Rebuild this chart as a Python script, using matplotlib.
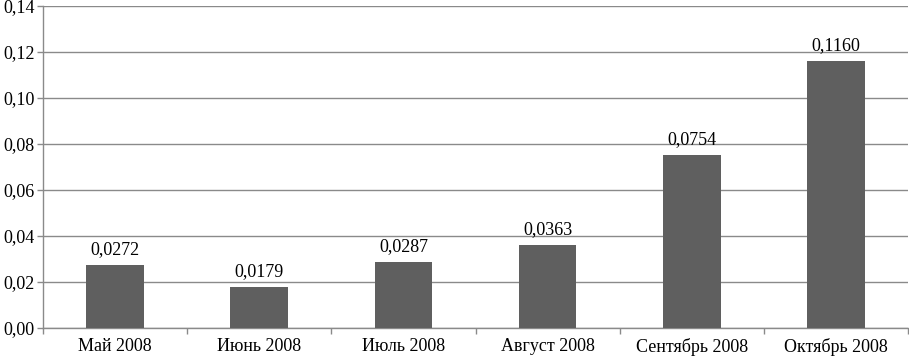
import matplotlib
matplotlib.use("Agg")
import matplotlib.pyplot as plt
from matplotlib.ticker import FuncFormatter, FixedLocator

plt.rcParams['font.family'] = ['Liberation Serif', 'DejaVu Serif']

months = ["Май 2008", "Июнь 2008", "Июль 2008", "Август 2008", "Сентябрь 2008", "Октябрь 2008"]
values = [0.0272, 0.0179, 0.0287, 0.0363, 0.0754, 0.1160]

fig = plt.figure(figsize=(9.09, 3.57), dpi=100)
ax = fig.add_axes([0.0473, 0.0812, 0.9517, 0.902])

x = list(range(len(months)))
bars = ax.bar(x, values, width=0.4, color="#5f5f5f", zorder=3)

for xi, v in zip(x, values):
    ax.text(xi, v + 0.003, ("%.4f" % v).replace(".", ","), ha="center", va="bottom", fontsize=13)

ax.set_xlim(-0.5, len(months) - 0.5)
ax.set_ylim(0, 0.14)
ax.set_yticks([i * 0.02 for i in range(8)])
ax.yaxis.set_major_formatter(FuncFormatter(lambda v, p: ("%.2f" % v).replace(".", ",")))
ax.yaxis.grid(True, color="#8a8a8a", linewidth=1, zorder=0)

ax.set_xticks(x)
ax.set_xticklabels(months, fontsize=13)
ax.tick_params(axis="x", which="major", length=0, pad=7)
ax.xaxis.set_minor_locator(FixedLocator([i + 0.5 for i in range(-1, len(months))]))
ax.tick_params(axis="x", which="minor", length=4, color="#8a8a8a", width=1)
ax.tick_params(axis="y", labelsize=13, length=4, color="#8a8a8a", width=1, pad=2)

for side in ["top", "right"]:
    ax.spines[side].set_visible(False)
for side in ["left", "bottom"]:
    ax.spines[side].set_color("#8a8a8a")
    ax.spines[side].set_linewidth(1)

fig.savefig("out.png", dpi=100)
